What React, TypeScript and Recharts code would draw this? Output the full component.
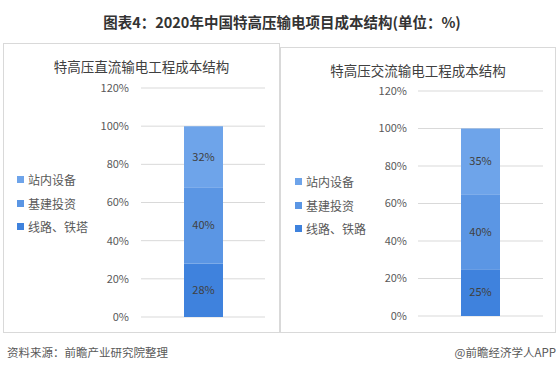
import React from 'react';
import { BarChart, Bar, YAxis, XAxis, CartesianGrid, Legend, LabelList } from 'recharts';

const seriesNames = ['线路、铁塔', '基建投资', '站内设备'];
const acSeriesNames = ['线路、铁路', '基建投资', '站内设备'];
const dcValues = [28, 40, 32];
const acValues = [25, 40, 35];
const yTicks = [0, 20, 40, 60, 80, 100, 120];

const colors = ['#3f82dd', '#5b96e4', '#6ea4ea'];
const FONT = '"Noto Sans CJK SC", "Noto Sans", sans-serif';

const toRow = (values: number[]) => ({ name: 'x', s0: values[0], s1: values[1], s2: values[2] });

// legend is drawn top-down, opposite to stack order
const renderLegend = (names: string[]) => () => (
  <div style={{ fontFamily: FONT }}>
    {[2, 1, 0].map((i) => (
      <div key={i} style={{ display: 'flex', alignItems: 'center', height: 23.5, fontSize: 12, color: '#595959' }}>
        <span style={{ width: 7, height: 7, background: colors[i], marginRight: 4, display: 'inline-block' }} />
        {names[i]}
      </div>
    ))}
  </div>
);

interface PanelProps {
  title: string;
  names: string[];
  values: number[];
  left: number;
  top: number;
  width: number;
  height: number;
  titleTop: number;
  plotLeft: number;
  margin: { top: number; right: number; bottom: number; left: number };
  tickMargin: number;
  legendTop: number;
  legendLeft: number;
}

function Panel(p: PanelProps) {
  const data = [toRow(p.values)];
  return (
    <div style={{ position: 'absolute', left: p.left, top: p.top, width: p.width, height: p.height, border: '1px solid #d9d9d9', boxSizing: 'border-box' }}>
      <div style={{ position: 'absolute', left: 0, top: p.titleTop, width: '100%', textAlign: 'center', fontFamily: FONT, fontSize: 13.5, color: '#404040', lineHeight: '18px' }}>
        {p.title}
      </div>
      <div style={{ position: 'absolute', left: 0, top: 0 }}>
        <BarChart width={p.width} height={p.height} data={data} margin={p.margin} barSize={39}>
          <CartesianGrid horizontal vertical={false} stroke="#d9d9d9" />
          <XAxis dataKey="name" hide />
          <YAxis
            width={p.plotLeft - p.margin.left}
            domain={[0, 120]}
            ticks={yTicks}
            axisLine={false}
            tickLine={false}
            tickMargin={p.tickMargin}
            tickFormatter={(v: number) => `${v}%`}
            tick={{ fill: '#595959', fontSize: 11, fontFamily: FONT }}
          />
          <Legend
            layout="vertical"
            align="center"
            verticalAlign="middle"
            content={renderLegend(p.names)}
            wrapperStyle={{ left: p.legendLeft, top: p.legendTop, width: 110 }}
          />
          {[0, 1, 2].map((i) => (
            <Bar key={i} dataKey={`s${i}`} name={p.names[i]} stackId="a" fill={colors[i]} isAnimationActive={false}>
              <LabelList
                dataKey={`s${i}`}
                position="center"
                formatter={(v: any) => `${v}%`} // eslint-disable-line @typescript-eslint/no-explicit-any
                style={{ fill: '#404040', fontSize: 11, fontFamily: FONT }}
              />
            </Bar>
          ))}
        </BarChart>
      </div>
    </div>
  );
}

export default function App() {
  return (
    <div style={{ position: 'absolute', left: 0, top: 0, width: 560, height: 370, background: '#fff', fontFamily: FONT }}>
      <div style={{ position: 'absolute', left: 0, top: 12, width: 564, textAlign: 'center', fontSize: 14.5, fontWeight: 'bold', color: '#333', lineHeight: '20px' }}>
        图表4：2020年中国特高压输电项目成本结构(单位：%)
      </div>
      <Panel
        title="特高压直流输电工程成本结构"
        names={seriesNames}
        values={dcValues}
        left={3}
        top={43}
        width={277}
        height={290}
        titleTop={13}
        plotLeft={137}
        margin={{ top: 44, right: 16, bottom: 17, left: 0 }}
        tickMargin={6}
        legendLeft={13}
        legendTop={124}
      />
      <Panel
        title="特高压交流输电工程成本结构"
        names={acSeriesNames}
        values={acValues}
        left={280}
        top={47}
        width={276}
        height={286}
        titleTop={13}
        plotLeft={137}
        margin={{ top: 43, right: 14, bottom: 18, left: 0 }}
        tickMargin={5}
        legendLeft={14}
        legendTop={122}
      />
      <div style={{ position: 'absolute', left: 7, top: 344, fontSize: 11.5, color: '#595959', lineHeight: '16px' }}>
        资料来源：前瞻产业研究院整理
      </div>
      <div style={{ position: 'absolute', right: 4, top: 344, fontSize: 11.5, color: '#595959', lineHeight: '16px' }}>
        @前瞻经济学人APP
      </div>
    </div>
  );
}
